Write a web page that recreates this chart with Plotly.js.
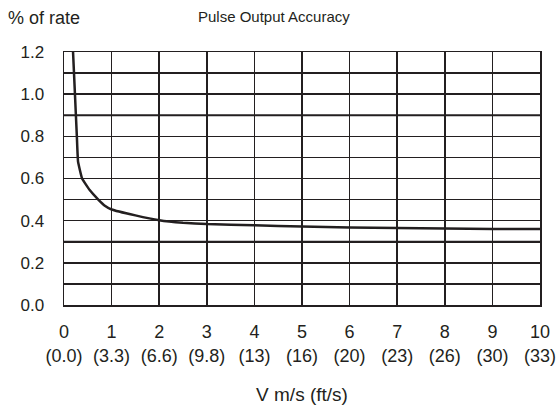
<!DOCTYPE html>
<html>
<head>
<meta charset="utf-8">
<script src="https://cdn.plot.ly/plotly-3.0.1.min.js"></script>
<style>html,body{margin:0;padding:0;background:#fff;}#chart{width:556px;height:405px;}</style>
</head>
<body>
<div id="chart"></div>
<script>
var velocity = [0.19, 0.23, 0.27, 0.295, 0.38, 0.54, 0.72, 0.85, 1.0, 1.5, 2, 2.5, 3, 4, 5, 6, 7, 8, 9, 10];
var accuracy = [1.2, 1.0, 0.8, 0.68, 0.6, 0.545, 0.5, 0.472, 0.453, 0.425, 0.402, 0.39, 0.384, 0.378, 0.372, 0.368, 0.365, 0.363, 0.361, 0.36];
var xTickVals = [0, 1, 2, 3, 4, 5, 6, 7, 8, 9, 10];
var xTickText = ["0<br>(0.0)", "1<br>(3.3)", "2<br>(6.6)", "3<br>(9.8)", "4<br>(13)", "5<br>(16)", "6<br>(20)", "7<br>(23)", "8<br>(26)", "9<br>(30)", "10<br>(33)"];
var yTickVals = [0, 0.2, 0.4, 0.6, 0.8, 1.0, 1.2];
var yTickText = ["0.0", "0.2", "0.4", "0.6", "0.8", "1.0", "1.2"];
var heavyGridY = [0.3, 0.9];

var font = "Liberation Sans, Arial, sans-serif";
var ink = "#231f20";
var trace = {
  x: velocity, y: accuracy, type: "scatter", mode: "lines",
  line: {color: ink, width: 2.5, shape: "spline", smoothing: 0.3},
  cliponaxis: true, hoverinfo: "skip"
};
var shapes = heavyGridY.map(function (v) {
  return {type: "line", xref: "paper", yref: "y", x0: 0, x1: 1, y0: v, y1: v, line: {color: ink, width: 2.2}, layer: "below"};
});
var layout = {
  width: 556, height: 405,
  margin: {l: 64, r: 16, t: 52, b: 100},
  paper_bgcolor: "#fff", plot_bgcolor: "#fff",
  showlegend: false,
  font: {family: font, color: ink, size: 18},
  shapes: shapes,
  xaxis: {
    range: [0, 10], tickvals: xTickVals, ticktext: xTickText,
    showgrid: true, gridcolor: ink, gridwidth: 1.5,
    showline: true, linecolor: ink, linewidth: 1.5, mirror: true,
    zeroline: false, ticks: "", ticklabelstandoff: 10, ticklabeloverflow: "allow",
    tickfont: {size: 18, family: font, color: ink},
    title: {text: "V m/s (ft/s)", font: {size: 19, family: font, color: ink}, standoff: 24}
  },
  yaxis: {
    range: [0, 1.2], tickvals: yTickVals, ticktext: yTickText,
    showgrid: true, gridcolor: ink, gridwidth: 1.5,
    minor: {dtick: 0.1, tick0: 0, showgrid: true, gridcolor: ink, gridwidth: 1.5, ticks: ""},
    showline: true, linecolor: ink, linewidth: 1.5, mirror: true,
    zeroline: false, ticks: "", ticklabelstandoff: 15, ticklabeloverflow: "allow",
    tickfont: {size: 17, family: font, color: ink}
  },
  annotations: [
    {text: "% of rate", xref: "paper", yref: "paper", x: -0.122, y: 1.0, xanchor: "left", yanchor: "middle", yshift: 34, showarrow: false, font: {size: 18, family: font, color: ink}},
    {text: "Pulse Output Accuracy", xref: "paper", yref: "paper", x: 0.441, y: 1.0, xanchor: "center", yanchor: "middle", yshift: 36, showarrow: false, font: {size: 15, family: font, color: ink}}
  ]
};
Plotly.newPlot("chart", [trace], layout, {displayModeBar: false, staticPlot: true});
</script>
</body>
</html>
